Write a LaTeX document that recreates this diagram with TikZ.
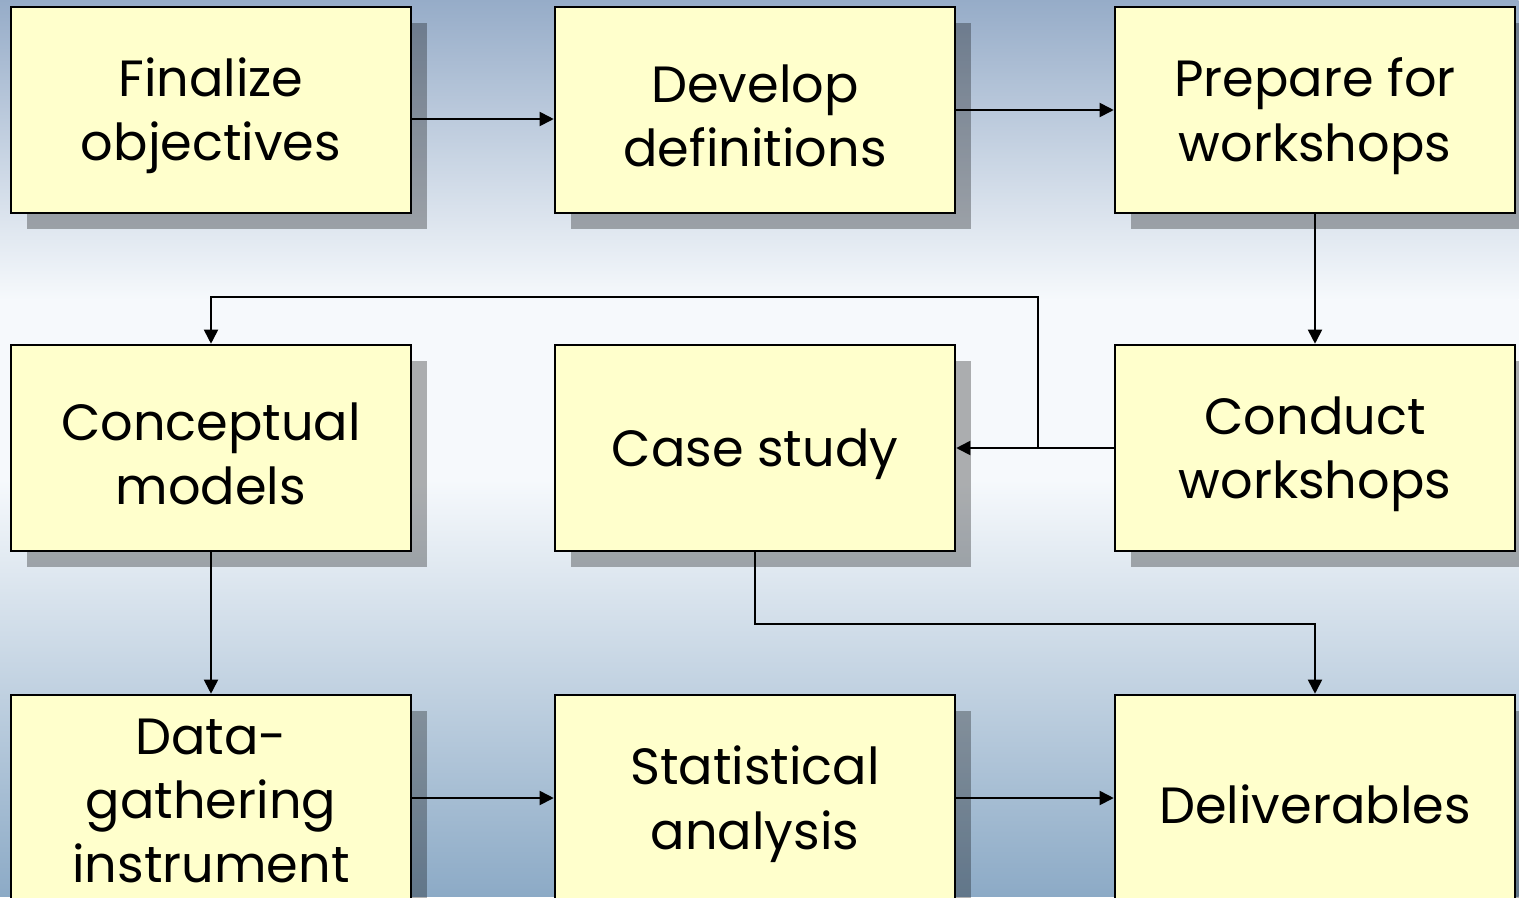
\documentclass[tikz,border=0pt]{standalone}
\usepackage{fontspec}
\setmainfont{Poppins}
\usetikzlibrary{arrows.meta,shadows}
\definecolor{boxfill}{HTML}{FFFFCC}
\definecolor{bgtop}{RGB}{150,172,200}
\definecolor{bgmid}{RGB}{246,249,252}
\definecolor{bgbot}{RGB}{140,170,198}

\begin{document}
\begin{tikzpicture}[x=0.02cm, y=-0.02cm,
        stepbox/.style={draw, line width=1.5pt, fill=boxfill, minimum width=8cm, minimum height=4.12cm, inner sep=0pt,
            drop shadow={shadow xshift=0.32cm, shadow yshift=-0.32cm, fill=black, opacity=0.3}},
        steptext/.style={align=center, font=\fontsize{29}{36.5}\selectfont, inner sep=0pt, yshift=-3.5pt},
        arr/.style={-{Triangle[length=8pt, width=8pt]}, line width=1pt}]
        \path[use as bounding box, clip] (0,0) rectangle (1519,897);
        \shade[top color=bgtop, bottom color=bgmid] (0cm,0cm) rectangle (30.38cm,-6cm);
        \fill[bgmid] (0cm,-6cm) rectangle (30.38cm,-9.6cm);
        \shade[top color=bgmid, bottom color=bgbot] (0cm,-9.6cm) rectangle (30.38cm,-17.94cm);

        \node[stepbox, label={[steptext]center:{Finalize\\objectives}}]            (A) at (211,110)  {};
        \node[stepbox, label={[steptext]center:{Develop\\definitions}}]            (B) at (755,110)  {};
        \node[stepbox, label={[steptext]center:{Prepare for\\workshops}}]          (C) at (1315,110) {};
        \node[stepbox, label={[steptext]center:{Conceptual\\models}}]              (D) at (211,448)  {};
        \node[stepbox, label={[steptext]center:{Case study}}]                      (E) at (755,448)  {};
        \node[stepbox, label={[steptext]center:{Conduct\\workshops}}]              (F) at (1315,448) {};
        \node[stepbox, label={[steptext, yshift=2pt]center:{Data-\\gathering\\instrument}}] (G) at (211,798) {};
        \node[stepbox, label={[steptext]center:{Statistical\\analysis}}]           (H) at (755,798)  {};
        \node[stepbox, label={[steptext]center:{Deliverables}}]                    (I) at (1315,798) {};

        \coordinate (split) at (1038,448);

        \draw [arr] ([yshift=-0.18cm]A.east) -- ([yshift=-0.18cm]B.west);
        \draw [arr] (B) -- (C);
        \draw [arr] (C) -- (F);
        \draw [arr] (F) -- (E);
        \draw [arr] (split) -- ++(0,-151) -| (D);
        \draw [arr] (D) -- (G);
        \draw [arr] (E.south) -- ++(0,72) -| (I);
        \draw [arr] (G) -- (H);
        \draw [arr] (H) -- (I);
    \end{tikzpicture}
\end{document}
